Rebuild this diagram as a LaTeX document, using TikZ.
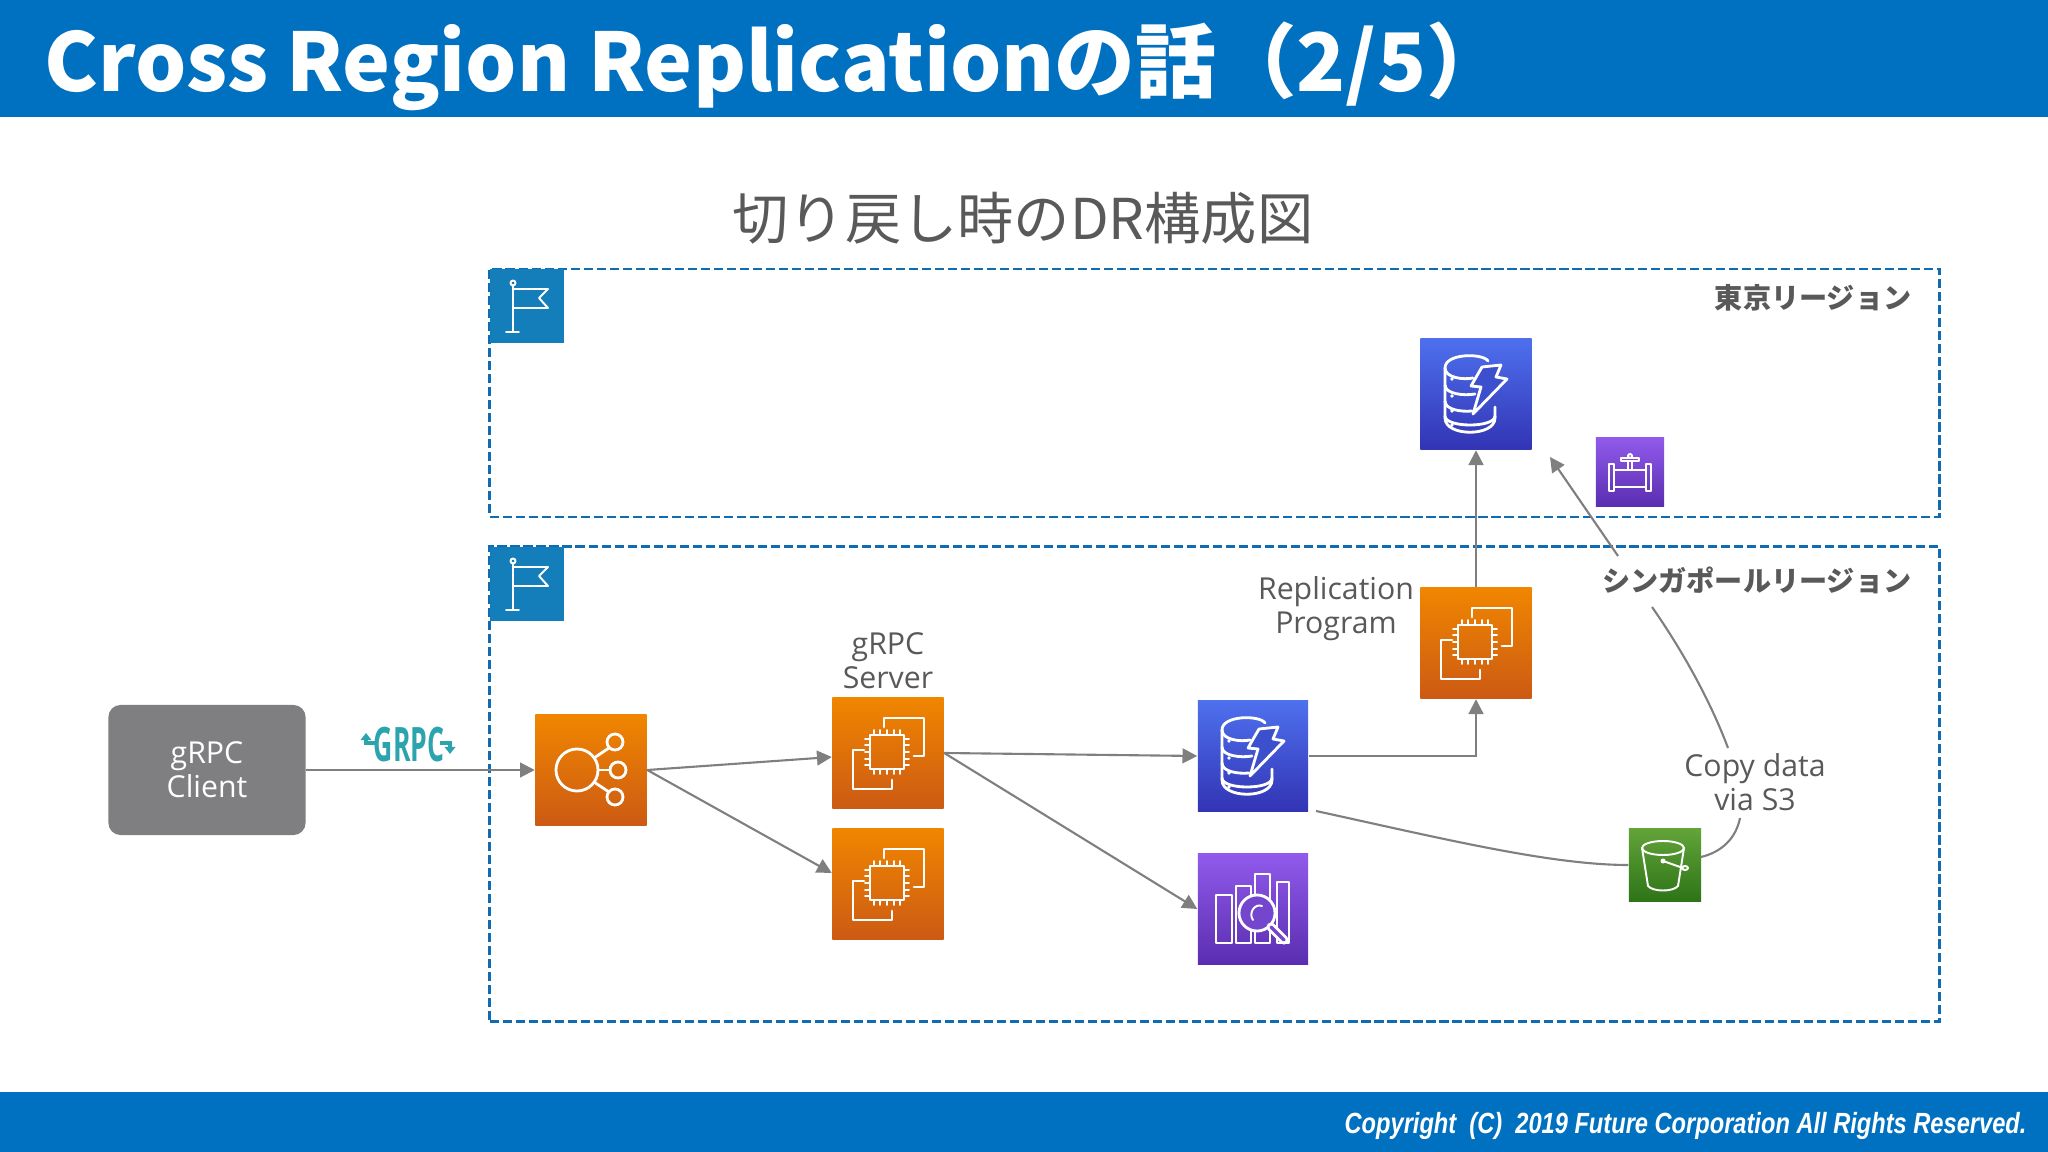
\documentclass[tikz,border=0pt]{standalone}
\usepackage{fontspec}
\usepackage{xcolor}
\usepackage{tikz}
\usetikzlibrary{arrows.meta,calc}
\setmainfont{Open Sans}
\newfontfamily\jpfont{Noto Sans CJK JP}
\newfontfamily\footfont{Liberation Sans}
\definecolor{barblue}{RGB}{0,112,192}
\definecolor{flagblue}{RGB}{20,126,186}
\definecolor{framblue}{RGB}{15,108,178}
\definecolor{linegray}{RGB}{127,127,127}
\definecolor{clientgray}{RGB}{127,126,128}
\definecolor{textgray}{RGB}{89,89,89}
\definecolor{orangetop}{RGB}{240,134,0}
\definecolor{orangelow}{RGB}{204,90,20}
\definecolor{bluetop}{RGB}{78,112,238}
\definecolor{bluelow}{RGB}{50,52,180}
\definecolor{purpletop}{RGB}{145,90,235}
\definecolor{purplelow}{RGB}{90,46,176}
\definecolor{greentop}{RGB}{98,164,56}
\definecolor{greenlow}{RGB}{46,116,24}
\definecolor{dynafill}{RGB}{60,80,205}
\definecolor{athenafill}{RGB}{115,70,205}
\definecolor{grpcteal}{RGB}{44,164,174}
\tikzset{
    glyph/.style={draw=white, line width=0.8pt, line join=round, line cap=round},
    thinglyph/.style={glyph, line width=0.55pt},
    ec2glyph/.pic={
        \draw[glyph] (-4,-26) -- (-4,-35) -- (36,-35) -- (36,3) -- (26,3);
        \draw[glyph] (-24,-3) -- (-35,-3) -- (-35,36) -- (4,36) -- (4,27);
        \draw[glyph] (-18,-18) rectangle (16,16);
        \foreach \p in {-14,-8,-1,6,12} {
            \draw[thinglyph] (\p,-18) -- (\p,-23);
            \draw[thinglyph] (\p,16) -- (\p,21);
            \draw[thinglyph] (-18,\p) -- (-23,\p);
            \draw[thinglyph] (16,\p) -- (21,\p);
        }
    },
    elbglyph/.pic={
        \draw[glyph] (-14,0) circle[radius=.21cm];
        \draw[glyph] (24,-28) circle[radius=.08cm];
        \draw[glyph] (27,0) circle[radius=.08cm];
        \draw[glyph] (24,27) circle[radius=.08cm];
        \draw[glyph] (3,-12) -- (18,-22);
        \draw[glyph] (7,0) -- (19,0);
        \draw[glyph] (3,12) -- (18,22);
    },
    dynaglyph/.pic={
        \draw[glyph] (12,-33) .. controls (7,-41) and (-31,-41) .. (-31,-26) -- (-31,24) .. controls (-31,43) and (19,43) .. (19,24) -- (19,13);
        \draw[glyph] (-31,-26) .. controls (-31,-16) and (-12,-14) .. (-3,-16);
        \draw[glyph] (-31,-9) .. controls (-31,0) and (-12,2) .. (-1,0);
        \draw[glyph] (-31,7) .. controls (-31,16) and (-14,18) .. (-4,17);
        \draw[glyph] (-31,22) .. controls (-31,34) and (19,34) .. (19,22);
        \foreach \q in {-15,2,17,31} \fill[white] (-24,\q) circle[radius=.018cm];
        \draw[glyph, fill=dynafill] (6,-27) -- (25,-29) -- (20,-17) -- (31,-15) -- (-3,20) -- (5,-7) -- (-5,-8) -- cycle;
    },
    athenaglyph/.pic={
        \draw[thinglyph] (-37,-14) rectangle (-21,34);
        \draw[thinglyph] (-17,-23) rectangle (-2,34);
        \draw[thinglyph] (2,-35) rectangle (17,34);
        \draw[thinglyph] (24,-27) rectangle (36,34);
        \draw[glyph, fill=athenafill] (4,4) circle[radius=.18cm];
        \draw[glyph, line width=2.6pt] (18,18) -- (31,31);
        \draw[athenafill, line width=1pt, line cap=round] (18,18) -- (31,31);
        \draw[thinglyph] (9,-3) .. controls (2,-6) and (-5,4) .. (0,11);
    },
    s3glyph/.pic={
        \draw[thinglyph] (-2,-17) ellipse[x radius=.21cm, y radius=.07cm];
        \draw[thinglyph] (-23,-17) -- (-17,21) .. controls (-12,27) and (8,27) .. (13,21) -- (19,-17);
        \draw[thinglyph] (-2,-4) -- (18,3);
        \draw[thinglyph] (20,3) ellipse[x radius=.03cm, y radius=.02cm];
        \fill[white] (-2,-4) circle[radius=.025cm];
    },
    pipeglyph/.pic={
        \draw[thinglyph] (-21,-8) rectangle (-16,19);
        \draw[thinglyph] (16,-8) rectangle (21,19);
        \draw[thinglyph] (-16,-2) -- (16,-2);
        \draw[thinglyph] (-16,15) -- (16,15);
        \draw[thinglyph] (-2,-11) -- (-2,-2);
        \draw[thinglyph] (2,-11) -- (2,-2);
        \draw[thinglyph] (-9,-11) -- (9,-11) -- (9,-14) -- (-9,-14) -- cycle;
        \draw[thinglyph] (0,-16) circle[radius=.02cm];
    },
    flagglyph/.pic={
        \draw[thinglyph] (-14,-21) -- (-14,26);
        \draw[thinglyph] (-14,-23) circle[radius=.025cm];
        \draw[thinglyph] (-21,26) -- (-8,26);
        \draw[thinglyph] (-14,-17) -- (21,-17) -- (12,-8) -- (21,2) -- (-14,2);
    }
}
\begin{document}
\begin{tikzpicture}[
    x=0.01cm, y=-0.01cm,
    bar/.style={fill=barblue, inner sep=0pt, minimum width=20.48cm},
    regionbox/.style={draw=framblue, line width=0.8pt, dash pattern=on 2.6pt off 1.1pt, inner sep=0pt},
    icon/.style={inner sep=0pt, minimum size=1.11cm, shading angle=-45},
    orangeicon/.style={icon, top color=orangetop, bottom color=orangelow},
    blueicon/.style={icon, top color=bluetop, bottom color=bluelow},
    purpleicon/.style={icon, top color=purpletop, bottom color=purplelow},
    greenicon/.style={icon, top color=greentop, bottom color=greenlow},
    flagicon/.style={fill=flagblue, inner sep=0pt, minimum size=.74cm},
    label/.style={text=textgray, font=\fontsize{8.6pt}{9.7pt}\selectfont, align=center, inner sep=0pt},
    regionlabel/.style={text=textgray, font=\jpfont\bfseries\fontsize{8pt}{9pt}\selectfont, inner sep=0pt, anchor=east},
    arrow/.style={-{Triangle[length=4.2pt, width=4.2pt]}, draw=linegray, line width=0.6pt},
    plain/.style={draw=linegray, line width=0.6pt},
    hook/.style={grpcteal, line width=1pt, -{Triangle[length=2pt, width=3pt]}}
]
    \useasboundingbox (0,0) rectangle (2048,1152);

    % Bars
    \node[bar, minimum height=1.17cm] (header) at (1024,58.5) {};
    \node[bar, minimum height=.6cm] (footer) at (1024,1122) {};
    \node[anchor=west, inner sep=0pt, text=white, font=\jpfont\bfseries\fontsize{22.95pt}{26pt}\selectfont] (title) at (44,66) {Cross Region Replicationの話（2/5）};
    \node[anchor=east, inner sep=0pt, text=white, xscale=.81, font=\footfont\itshape\bfseries\fontsize{8.3pt}{9pt}\selectfont] (copyright) at (2027,1126) {Copyright\ \ (C)\ \ 2019 Future Corporation All Rights Reserved.};
    \node[inner sep=0pt, text=textgray, font=\jpfont\fontsize{16pt}{18pt}\selectfont] (heading) at (1023,218) {切り戻し時のDR構成図};

    % Regions
    \node[regionbox, minimum width=14.49cm, minimum height=2.48cm] (tokyo) at (1214.5,393) {};
    \node[regionbox, minimum width=14.49cm, minimum height=4.74cm] (singapore) at (1214.5,784) {};
    \node[flagicon] (tokyoflag) at (527,306) {};
    \node[flagicon] (singaporeflag) at (527,584) {};
    \path (tokyoflag) pic {flagglyph};
    \path (singaporeflag) pic {flagglyph};
    \node[regionlabel] (tokyolabel) at (1912,298) {東京リージョン};
    \node[regionlabel] (singaporelabel) at (1912,580) {シンガポールリージョン};

    % Client
    \node[fill=clientgray, rounded corners=.12cm, minimum width=1.97cm, minimum height=1.3cm, text=white, font=\fontsize{8.6pt}{9.7pt}\selectfont, align=center, inner sep=0pt] (client) at (207,770) {gRPC\\Client};
    \node[inner sep=0pt, text=grpcteal, font=\bfseries\fontsize{13.5pt}{14pt}\selectfont, xscale=.56] (grpc) at (409,745) {GRPC};
    \draw[hook] (378,743) -- (366,743) -- (366,733);
    \draw[hook] (440,743) -- (450,743) -- (450,754);

    % Icons
    \node[orangeicon] (elb) at (591,770) {};
    \node[orangeicon] (ec2a) at (888,753) {};
    \node[orangeicon] (ec2b) at (888,884) {};
    \node[orangeicon] (ec2rep) at (1476,643) {};
    \node[blueicon, minimum size=1.1cm] (dynasing) at (1253,756) {};
    \node[blueicon] (dynatokyo) at (1476,394) {};
    \node[purpleicon, minimum size=1.1cm] (athena) at (1253,909) {};
    \node[purpleicon, minimum size=.68cm] (pipe) at (1630,472) {};
    \node[greenicon, minimum size=.72cm] (s3) at (1665,865) {};
    \path (elb) pic {elbglyph};
    \path (ec2a) pic {ec2glyph};
    \path (ec2b) pic {ec2glyph};
    \path (ec2rep) pic {ec2glyph};
    \path (dynasing) pic {dynaglyph};
    \path (dynatokyo) pic {dynaglyph};
    \path (athena) pic {athenaglyph};
    \path (s3) pic {s3glyph};
    \path (pipe) pic {pipeglyph};

    % Labels
    \node[label] (serverlabel) at (888,661) {gRPC\\Server};
    \node[label] (replabel) at (1336,609) {Replication\\Program};
    \node[label] (copylabel) at (1755,782) {Copy data\\via S3};

    % Arrows
    \coordinate (dynatip) at (1550,457);
    \coordinate (dynacorner) at (1316,811);
    \coordinate (s3out) at (1701,857);
    \coordinate (copyin) at (1740,818);
    \coordinate (copyout) at (1728,748);
    \coordinate (singin) at (1652,607);
    \coordinate (singout) at (1618,556);
    \draw[arrow] (client.east) -- (elb.west);
    \draw[arrow] (elb.east) -- ([yshift=-.04cm]ec2a.west);
    \draw[arrow] (elb.east) -- ([yshift=.11cm]ec2b.west);
    \draw[arrow] (ec2a.east) -- (dynasing.west);
    \draw[arrow] (ec2a.east) -- (athena.west);
    \draw[arrow] (dynasing.east) -| (ec2rep.south);
    \draw[arrow] (ec2rep.north) -- (dynatokyo.south);
    \draw[plain] (dynacorner) .. controls (1440,838) and (1550,865) .. (s3.west);
    \draw[plain] (s3out) .. controls (1722,852) and (1736,838) .. (copyin);
    \draw[plain] (copyout) .. controls (1710,700) and (1682,650) .. (singin);
    \draw[arrow] (singout) -- (dynatip);
\end{tikzpicture}
\end{document}
